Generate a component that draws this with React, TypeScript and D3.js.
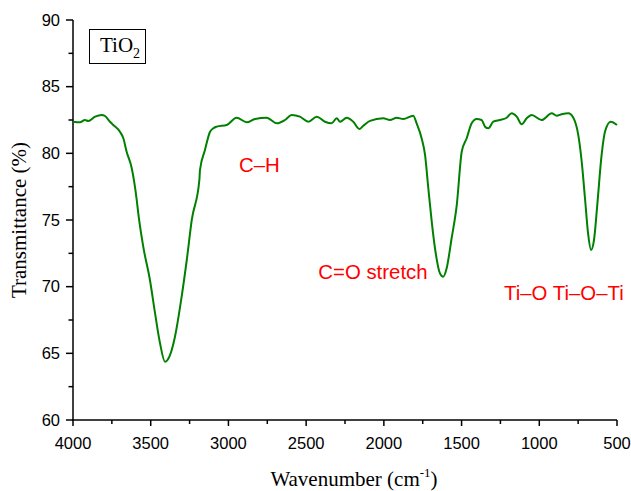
import React from "react";
import * as d3 from "d3";

const wavenumbers = [
  3998, 3955, 3923, 3902, 3858, 3815, 3794, 3762, 3741, 3698, 3676, 3655, 3622, 3590, 3580, 3548,
  3505, 3472, 3440, 3408, 3376, 3344, 3301, 3268, 3236, 3187, 3183, 3151, 3119, 3097, 3075, 3011,
  2947, 2882, 2829, 2754, 2689, 2636, 2593, 2540, 2486, 2432, 2379, 2336, 2303, 2282, 2239, 2197,
  2158, 2132, 2089, 2004, 1961, 1917, 1875, 1811, 1789, 1757, 1735, 1714, 1692, 1671, 1639, 1618,
  1596, 1564, 1531, 1499, 1467, 1435, 1403, 1371, 1349, 1328, 1296, 1253, 1210, 1178, 1145, 1113,
  1081, 1049, 985, 920, 888, 856, 813, 781, 749, 727, 706, 685, 667, 648, 627, 599, 577, 541, 500,
];
const transmittance = [
  82.37, 82.33, 82.5, 82.43, 82.75, 82.88, 82.8, 82.37, 82.13, 81.62, 81.13, 80.12, 78.88, 76.5, 75.5, 73.0,
  70.5, 68.0, 65.75, 64.37, 64.87, 66.25, 69.25, 72.0, 75.0, 78.0, 78.75, 80.25, 81.6, 81.88, 82.0, 82.13,
  82.67, 82.33, 82.58, 82.67, 82.25, 82.5, 82.88, 82.75, 82.37, 82.75, 82.37, 82.25, 82.63, 82.37, 82.67, 82.37,
  81.83, 82.07, 82.43, 82.63, 82.5, 82.67, 82.57, 82.82, 82.25, 81.13, 79.88, 77.38, 74.88, 72.88, 71.0, 70.75,
  71.38, 73.63, 76.12, 80.12, 81.13, 82.25, 82.57, 82.5, 82.0, 81.88, 82.37, 82.5, 82.67, 83.0, 82.75, 82.18,
  82.63, 82.88, 82.5, 83.0, 82.82, 82.93, 83.0, 82.67, 81.37, 79.37, 76.63, 73.88, 72.75, 73.5, 76.12, 79.88, 81.63, 82.37, 82.13,
];

const xMajorTicks = [4000, 3500, 3000, 2500, 2000, 1500, 1000, 500];
const xMinorTicks = [3750, 3250, 2750, 2250, 1750, 1250, 750];
const yMajorTicks = [60, 65, 70, 75, 80, 85, 90];
const yMinorTicks = [62.5, 67.5, 72.5, 77.5, 82.5, 87.5];

const annotations = [
  { text: "C–H", w: 2932, t: 78.62 },
  { text: "C=O stretch", w: 2422, t: 70.55 },
  { text: "Ti–O Ti–O–Ti", w: 1227, t: 69.0 },
];

export default function App() {
  const W = 631, H = 491;
  const x = d3.scaleLinear().domain([4000, 500]).range([73, 617]);
  const y = d3.scaleLinear().domain([60, 90]).range([420, 20]);
  const pts = wavenumbers.map((w, i) => [w, transmittance[i]] as [number, number]);
  const line = d3.line<[number, number]>().x(d => x(d[0])).y(d => y(d[1])).curve(d3.curveMonotoneX);
  const sans = "Arial, 'Liberation Sans', sans-serif";
  const serif = "'Times New Roman', 'Liberation Serif', serif";
  return (
    <svg width={W} height={H} style={{ position: "absolute", left: 0, top: 0, background: "#fff" }}>
      <rect x={0} y={0} width={W} height={H} fill="#fff" />
      {/* axes */}
      <line x1={73} x2={73} y1={y(90)} y2={y(60) + 0.75} stroke="#000" strokeWidth={1.5} />
      <line x1={72.25} x2={x(500)} y1={420} y2={420} stroke="#000" strokeWidth={1.5} />
      {yMajorTicks.map(t => (
        <g key={"ym" + t}>
          <line x1={66} x2={73} y1={y(t)} y2={y(t)} stroke="#000" strokeWidth={1.5} />
          <text x={60} y={y(t)} dy="0.35em" textAnchor="end" fontFamily={sans} fontSize={16.5}>{t}</text>
        </g>
      ))}
      {yMinorTicks.map(t => (
        <line key={"yn" + t} x1={68.5} x2={73} y1={y(t)} y2={y(t)} stroke="#000" strokeWidth={1.5} />
      ))}
      {xMajorTicks.map(t => (
        <g key={"xm" + t}>
          <line x1={x(t)} x2={x(t)} y1={420} y2={426} stroke="#000" strokeWidth={1.5} />
          <text x={x(t)} y={449} textAnchor="middle" fontFamily={sans} fontSize={16.5}>{t}</text>
        </g>
      ))}
      {xMinorTicks.map(t => (
        <line key={"xn" + t} x1={x(t)} x2={x(t)} y1={420} y2={424} stroke="#000" strokeWidth={1.5} />
      ))}
      {/* curve */}
      <path d={line(pts) || ""} fill="none" stroke="#008000" strokeWidth={2} strokeLinejoin="round" />
      {/* annotations */}
      {annotations.map(a => (
        <text key={a.text} x={x(a.w)} y={y(a.t)} fill="#ff0000" fontFamily={sans} fontSize={20.4}>{a.text}</text>
      ))}
      {/* legend box */}
      <rect x={89.5} y={29.5} width={56} height={34} fill="#fff" stroke="#000" strokeWidth={1} />
      <text x={100} y={52} fontFamily={serif} fontSize={21}>TiO<tspan fontSize={14} dy={6}>2</tspan></text>
      {/* axis titles */}
      <text x={354} y={486} textAnchor="middle" fontFamily={serif} fontSize={21}>
        Wavenumber (cm<tspan fontSize={13} dy={-9}>-1</tspan><tspan dy={9}>)</tspan>
      </text>
      <text transform="translate(26,220) rotate(-90)" textAnchor="middle" fontFamily={serif} fontSize={21}>Transmittance (%)</text>
    </svg>
  );
}
